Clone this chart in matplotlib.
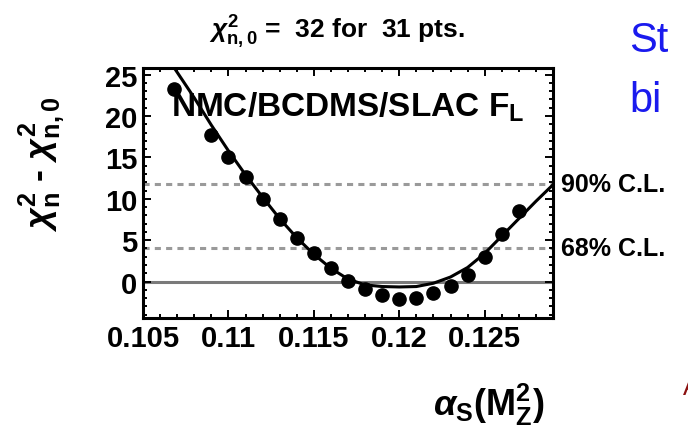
import matplotlib.pyplot as plt
from matplotlib.ticker import MultipleLocator, FixedLocator

# data points (alpha_s, delta chi2)
alpha_pts = [0.1068, 0.109, 0.110, 0.111, 0.112, 0.113, 0.114, 0.115, 0.116, 0.117,
             0.118, 0.119, 0.120, 0.121, 0.122, 0.123, 0.124, 0.125, 0.126, 0.127]
dchi2_pts = [23.3, 17.7, 15.0, 12.6, 10.0, 7.6, 5.3, 3.5, 1.7, 0.1,
             -0.9, -1.65, -2.05, -1.95, -1.4, -0.5, 0.8, 2.95, 5.8, 8.5]

# fitted curve
alpha_fit = [0.1068, 0.108, 0.109, 0.110, 0.111, 0.112, 0.113, 0.114, 0.115, 0.116,
             0.117, 0.118, 0.119, 0.120, 0.121, 0.122, 0.123, 0.124, 0.125, 0.126,
             0.127, 0.128, 0.129]
dchi2_fit = [25.9, 22.2, 18.9, 15.8, 12.9, 10.2, 7.6, 5.3, 3.3, 1.6,
             0.3, -0.4, -0.6, -0.65, -0.6, -0.2, 0.55, 1.7, 3.4, 5.5,
             7.6, 9.7, 11.7]

cl_levels = [11.76, 4.1]
cl_labels = ["90% C.L.", "68% C.L."]
xticks = [0.105, 0.11, 0.115, 0.12, 0.125]
xtick_labels = ["0.105", "0.11", "0.115", "0.12", "0.125"]
yticks = [0, 5, 10, 15, 20, 25]

FONT = ['Liberation Sans Narrow', 'Liberation Sans', 'DejaVu Sans']
plt.rcParams['font.family'] = FONT
plt.rcParams['font.weight'] = 'bold'
plt.rcParams['mathtext.fontset'] = 'custom'
plt.rcParams['mathtext.rm'] = 'Liberation Sans:bold'
plt.rcParams['mathtext.bf'] = 'Liberation Sans:bold'
plt.rcParams['mathtext.it'] = 'Liberation Sans:italic'

fig = plt.figure(figsize=(6.88, 4.31), dpi=100)
ax = fig.add_axes([143 / 688, 1 - 319 / 431, 410 / 688, 250 / 431])

ax.axhline(0, color='#7a7a7a', lw=2.2, zorder=1)
for lev in cl_levels:
    ax.axhline(lev, color='#9a9a9a', lw=2.2, dashes=(2.0, 1.7), zorder=1)

ax.plot(alpha_fit, dchi2_fit, color='black', lw=2.2, zorder=2)
ax.plot(alpha_pts, dchi2_pts, 'o', color='black', ms=9.5, zorder=3)

ax.set_xlim(0.105, 0.129)
ax.set_ylim(-4.4, 25.8)
ax.xaxis.set_major_locator(FixedLocator(xticks))
ax.set_xticklabels(xtick_labels)
ax.xaxis.set_minor_locator(MultipleLocator(0.001))
ax.yaxis.set_major_locator(FixedLocator(yticks))
ax.yaxis.set_minor_locator(MultipleLocator(1))
ax.tick_params(which='both', direction='in', top=True, right=True, width=1.4)
ax.tick_params(which='major', length=6, labelsize=21, pad=4)
ax.tick_params(which='minor', length=3)
for s in ax.spines.values():
    s.set_linewidth(2.2)

ax.text(0.5, 0.845, r"NMC/BCDMS/SLAC F$_\mathrm{L}$", transform=ax.transAxes,
        ha='center', va='center', fontsize=24, fontweight='bold')

for lev, lab in zip(cl_levels, cl_labels):
    ax.text(1.02, lev, lab, transform=ax.get_yaxis_transform(),
            ha='left', va='center', fontsize=18, fontweight='bold')

fig.text(0.49, 0.925, r"$\chi^2_\mathrm{n,0}$ =  32 for  31 pts.", ha='center', va='center',
         fontsize=19, fontweight='bold')
fig.text(0.06, 0.62, r"$\chi^2_\mathrm{n}$ - $\chi^2_\mathrm{n,0}$", rotation=90,
         ha='center', va='center', fontsize=26, fontweight='bold')
fig.text(0.71, 0.06, r"$\alpha_\mathrm{S}$(M$^2_\mathrm{Z}$)", ha='center', va='center',
         fontsize=26, fontweight='bold')

# cut-off slide text at the right edge
fig.text(0.915, 0.905, "St", color='#1a1aee', fontsize=30, fontweight='normal',
         ha='left', va='center')
fig.text(0.915, 0.765, "bi", color='#1a1aee', fontsize=30, fontweight='normal',
         ha='left', va='center')
fig.text(0.992, 0.1, "A", color='#8b1010', fontsize=18, fontweight='normal',
         ha='left', va='center')

fig.savefig("out.png", dpi=100)
